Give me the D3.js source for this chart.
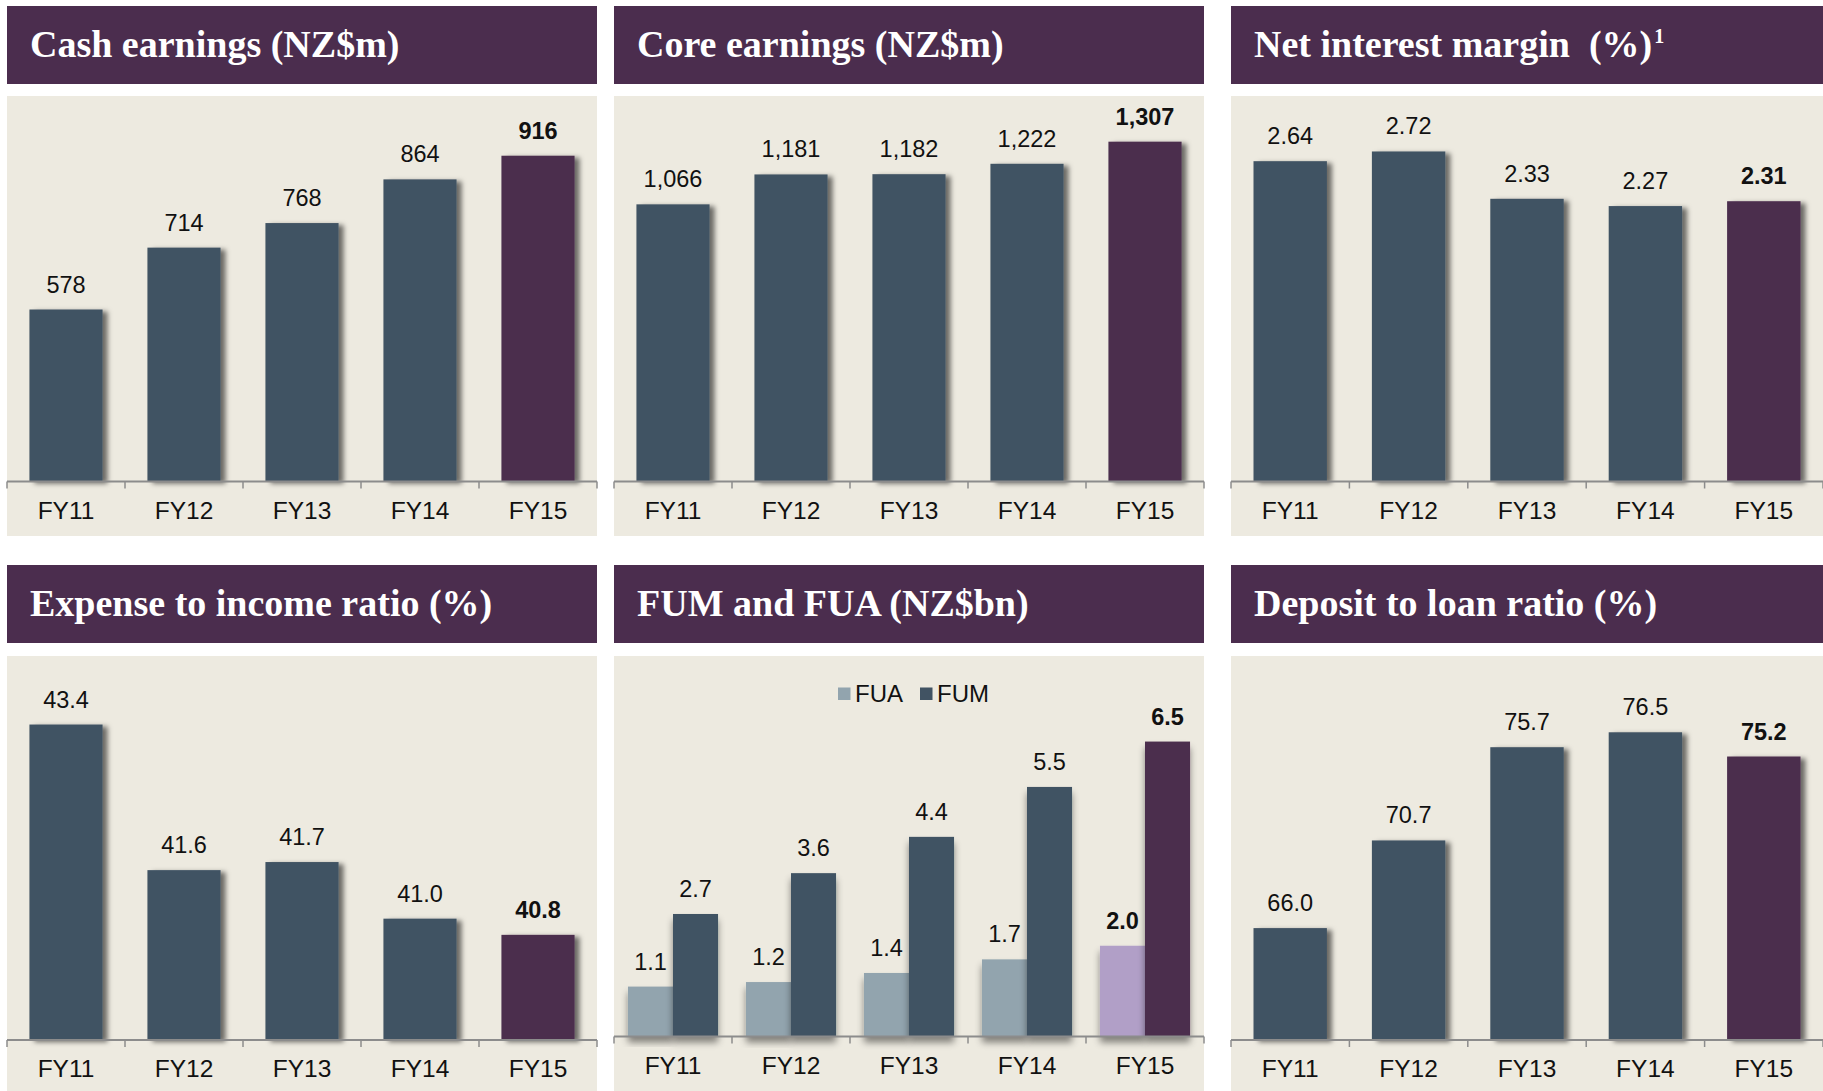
<!DOCTYPE html>
<html>
<head>
<meta charset="utf-8">
<script src="https://cdn.jsdelivr.net/npm/d3@7"></script>
<style>
	body { margin: 0; background: #fff; }
	svg { display: block; }
</style>
</head>
<body>
<svg id="chart"></svg>
<script>
const years = ['FY11', 'FY12', 'FY13', 'FY14', 'FY15'];
const cashEarnings = [578, 714, 768, 864, 916];
const coreEarnings = [1066, 1181, 1182, 1222, 1307];
const netInterestMargin = [2.64, 2.72, 2.33, 2.27, 2.31];
const expenseToIncome = [43.4, 41.6, 41.7, 41.0, 40.8];
const fuaValues = [1.1, 1.2, 1.4, 1.7, 2.0];
const fumValues = [2.7, 3.6, 4.4, 5.5, 6.5];
const depositToLoan = [66.0, 70.7, 75.7, 76.5, 75.2];
const fumSeries = ['FUA', 'FUM'];

const config = {
	header: '#4B2D4E',
	plotBg: '#EDEAE0',
	bar: '#415363',
	highlight: '#4B2D4E',
	fua: '#92A4AE',
	fuaHighlight: '#B19FC7',
	axis: '#8C8C8C',
	sans: '"Liberation Sans", Arial, sans-serif',
	serif: '"Liberation Serif", "Times New Roman", serif'
};

const columns = [[7, 597], [614, 1204], [1231, 1823]];
const rows = [
	{ head: 6, plot: 96, axis: 481.5 },
	{ head: 565, plot: 656, axis: 1040 }
];

const svg = d3.select('#chart').attr('width', 1823).attr('height', 1091);

const defs = svg.append('defs');
defs.append('filter').attr('id', 'shadow').attr('x', '-20%').attr('y', '-10%').attr('width', '150%').attr('height', '130%')
	.append('feDropShadow').attr('dx', 5).attr('dy', 2).attr('stdDeviation', 2.5)
	.attr('flood-color', '#000').attr('flood-opacity', 0.55);
defs.append('filter').attr('id', 'shadowDown').attr('x', '-20%').attr('y', '-10%').attr('width', '140%').attr('height', '130%')
	.append('feDropShadow').attr('dx', 0).attr('dy', 6).attr('stdDeviation', 3.5)
	.attr('flood-color', '#000').attr('flood-opacity', 0.45);

function drawPanel(col, row, title, sup) {
	const [x0, x1] = columns[col];
	const r = rows[row];
	svg.append('rect').attr('x', x0).attr('y', r.head).attr('width', x1 - x0).attr('height', 78).attr('fill', config.header);
	svg.append('rect').attr('x', x0).attr('y', r.plot).attr('width', x1 - x0).attr('height', Math.min(440, 1091 - r.plot)).attr('fill', config.plotBg);
	const t = svg.append('text')
		.attr('x', x0 + 23).attr('y', r.head + 51)
		.attr('fill', '#fff')
		.style('white-space', 'pre')
		.style('font-family', config.serif).style('font-weight', 'bold').style('font-size', '38px')
		.text(title);
	if (sup) t.append('tspan').attr('dx', 2).attr('dy', -14).style('font-size', '20px').text(sup);
}

function drawAxis(x, axisY) {
	const [x0, x1] = x.range();
	const g = svg.append('g');
	g.append('line').attr('x1', x0).attr('x2', x1).attr('y1', axisY).attr('y2', axisY)
		.attr('stroke', config.axis).attr('stroke-width', 2);
	g.selectAll('.tick').data(years.map(d => x(d)).concat([x1])).enter()
		.append('line').attr('x1', d => d).attr('x2', d => d).attr('y1', axisY).attr('y2', axisY + 7)
		.attr('stroke', config.axis).attr('stroke-width', 1.5);
	g.selectAll('text').data(years).enter().append('text')
		.attr('x', d => x(d) + x.bandwidth() / 2).attr('y', axisY + 37)
		.attr('text-anchor', 'middle')
		.style('font-family', config.sans).style('font-size', '24.5px').attr('fill', '#111')
		.text(d => d);
}

function barChart(col, row, title, values, domain, fmt, opts = {}) {
	drawPanel(col, row, title, opts.sup);
	const r = rows[row];
	const axisY = r.axis;
	const span = opts.span || 364;
	const x = d3.scaleBand().domain(years).range(columns[col]);
	const xb = d3.scaleBand().domain(years).range(columns[col]).paddingInner(0.38).paddingOuter(0.19);
	const y = d3.scaleLinear().domain(domain).range([axisY, axisY - span]);
	const data = years.map((d, i) => ({ year: d, value: values[i], last: i === years.length - 1 }));

	svg.append('g').selectAll('rect').data(data).enter().append('rect')
		.attr('x', d => xb(d.year)).attr('width', xb.bandwidth())
		.attr('y', d => y(d.value)).attr('height', d => axisY - y(d.value))
		.attr('fill', d => d.last ? config.highlight : config.bar)
		.attr('filter', 'url(#shadow)');

	svg.append('g').selectAll('text').data(data).enter().append('text')
		.attr('x', d => xb(d.year) + xb.bandwidth() / 2).attr('y', d => y(d.value) - 17)
		.attr('text-anchor', 'middle')
		.style('font-family', config.sans).style('font-size', '23.5px')
		.style('font-weight', d => d.last ? 'bold' : 'normal').attr('fill', '#111')
		.text(d => fmt(d.value));

	drawAxis(x, axisY);
}

function fumChart(col, row) {
	drawPanel(col, row, 'FUM and FUA (NZ$bn)');
	const axisY = rows[row].axis - 3.5;
	const x = d3.scaleBand().domain(years).range(columns[col]);
	const xs = d3.scaleBand().domain(fumSeries).range([0, x.bandwidth()]).paddingOuter(0.31);
	const y = d3.scaleLinear().domain([0, 8]).range([axisY, axisY - 363]);
	const data = [];
	years.forEach((d, i) => {
		data.push({ year: d, key: 'FUA', value: fuaValues[i], last: i === years.length - 1 });
		data.push({ year: d, key: 'FUM', value: fumValues[i], last: i === years.length - 1 });
	});
	const colour = d => d.key === 'FUA'
		? (d.last ? config.fuaHighlight : config.fua)
		: (d.last ? config.highlight : config.bar);

	svg.append('g').selectAll('rect').data(data).enter().append('rect')
		.attr('x', d => x(d.year) + xs(d.key)).attr('width', xs.bandwidth())
		.attr('y', d => y(d.value)).attr('height', d => axisY - y(d.value))
		.attr('fill', colour)
		.attr('filter', 'url(#shadowDown)');

	svg.append('g').selectAll('text').data(data).enter().append('text')
		.attr('x', d => x(d.year) + xs(d.key) + xs.bandwidth() / 2).attr('y', d => y(d.value) - 17)
		.attr('text-anchor', 'middle')
		.style('font-family', config.sans).style('font-size', '23.5px')
		.style('font-weight', d => d.last ? 'bold' : 'normal').attr('fill', '#111')
		.text(d => d3.format('.1f')(d.value));

	// legend
	const legend = svg.append('g').attr('transform', `translate(838, ${rows[row].plot + 37.5})`);
	const item = legend.selectAll('g').data(fumSeries).enter().append('g')
		.attr('transform', (d, i) => `translate(${i * 82}, 0)`);
	item.append('rect').attr('x', 0).attr('y', -6).attr('width', 12.5).attr('height', 12.5)
		.attr('fill', d => d === 'FUA' ? config.fua : config.bar);
	item.append('text').attr('x', 17).attr('y', 8.5)
		.style('font-family', config.sans).style('font-size', '24px').attr('fill', '#111')
		.text(d => d);

	drawAxis(x, axisY);
}

barChart(0, 0, 'Cash earnings (NZ$m)', cashEarnings, [200, 1000], d3.format('d'));
barChart(1, 0, 'Core earnings (NZ$m)', coreEarnings, [0, 1400], d3.format(','));
barChart(2, 0, 'Net interest margin  (%)', netInterestMargin, [0, 3], d3.format('.2f'), { sup: '1' });
barChart(0, 1, 'Expense to income ratio (%)', expenseToIncome, [39.5, 44], d3.format('.1f'));
fumChart(1, 1);
barChart(2, 1, 'Deposit to loan ratio (%)', depositToLoan, [60, 80], d3.format('.1f'), { span: 373 });
</script>
</body>
</html>
